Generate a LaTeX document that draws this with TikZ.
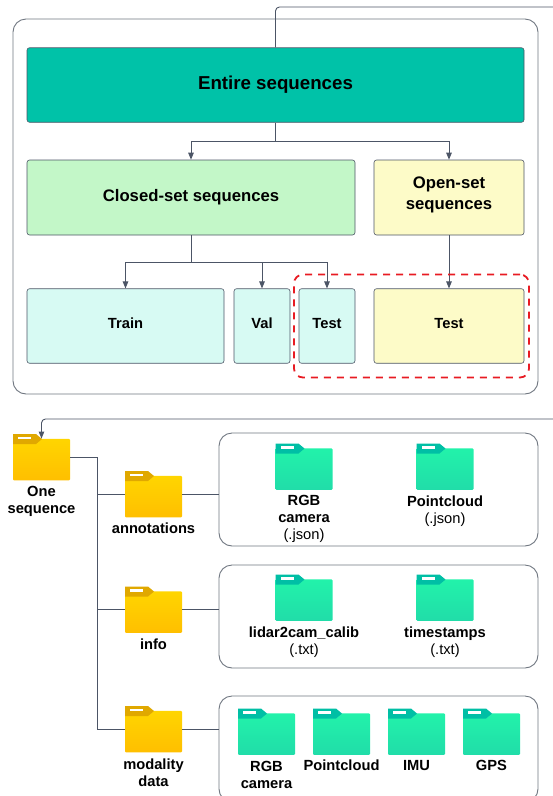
\documentclass[tikz,border=0pt]{standalone}
\usepackage{fontspec}
\setmainfont{Liberation Sans}
\usetikzlibrary{arrows.meta}
\definecolor{linegray}{HTML}{4C5566}
\definecolor{framegray}{HTML}{6F7680}
\definecolor{entirefill}{HTML}{00C2A8}
\definecolor{closedfill}{HTML}{C3F7C8}
\definecolor{openfill}{HTML}{FDFBC8}
\definecolor{splitfill}{HTML}{D7FAF3}
\definecolor{dashred}{HTML}{E81B23}
\definecolor{tabcolor}{HTML}{E0A800}
\definecolor{bodytop}{HTML}{FFD500}
\definecolor{bodybot}{HTML}{FFBF00}
\tikzset{
    stagebox/.style={draw=linegray,line width=0.6pt,rounded corners=2.5pt,inner sep=0pt,align=center,font=\fontsize{16.7}{21}\selectfont\bfseries},
    splitbox/.style={stagebox,minimum height=74.5pt,text depth=6pt,font=\fontsize{14.7}{17}\selectfont\bfseries},
    frame/.style={draw=framegray,line width=0.9pt,rounded corners=13pt,inner sep=0pt},
    conn/.style={draw=linegray,line width=0.9pt,-{Triangle[width=5.5pt,length=7pt]}},
    wire/.style={draw=linegray,line width=0.9pt},
    flabel/.style={align=center,inner sep=0pt,font=\fontsize{14.7}{17}\selectfont\bfseries},
    folder/.pic={
        \node[inner sep=0pt,minimum width=57pt,minimum height=41.5pt,rounded corners=1pt,top color=bodytop,bottom color=bodybot] (-body) at (0,0) {};
        \fill[tabcolor] (-28.5,-25.5) -- (-5.5,-25.5) -- (0.5,-20.5) -- (-5.5,-15.5) -- (-28.5,-15.5) -- cycle;
        \fill[white] (-23.5,-23) rectangle (-10.5,-20.5);
        \coordinate (-left) at (-28.5,-2.5);
        \coordinate (-right) at (28.5,-2.5);
    },
}
\begin{document}
\begin{tikzpicture}[x=1pt,y=-1pt]
    \useasboundingbox (0,0) rectangle (553,796);
    \clip (0,0) rectangle (553,796);
    % upper part
    \node[frame,minimum width=525pt,minimum height=375pt] (outer) at (275.5,206.5) {};
    \node[stagebox,fill=entirefill,minimum width=497pt,minimum height=74.5pt,text depth=5pt,font=\fontsize{18.7}{21}\selectfont\bfseries] (entire) at (275.5,85) {Entire sequences};
    \node[stagebox,fill=closedfill,minimum width=328pt,minimum height=75pt] (closed) at (191,197.5) {Closed-set sequences};
    \node[stagebox,fill=openfill,minimum width=150pt,minimum height=75pt,text depth=8pt] (open) at (449,197.5) {Open-set\\sequences};
    \node[splitbox,fill=splitfill,minimum width=197pt] (train) at (125.5,326) {Train};
    \node[splitbox,fill=splitfill,minimum width=56pt] (val) at (262,326) {Val};
    \node[splitbox,fill=splitfill,minimum width=56pt] (test) at (327,326) {Test};
    \node[splitbox,fill=openfill,minimum width=150pt] (opentest) at (449,326) {Test};
    \coordinate (topend) at (553,7);
    \coordinate (split) at (275.5,141);
    \coordinate (closedsplit) at (191,262);
    \draw[wire,rounded corners=4pt] (entire.north) |- (topend);
    \draw[wire] (entire.south) -- (split);
    \draw[conn] (split) -| (closed.north);
    \draw[conn] (split) -| (open.north);
    \draw[wire] (closed.south) -- (closedsplit);
    \draw[conn] (closedsplit) -| (train.north);
    \draw[conn] (closedsplit) -| (val.north);
    \draw[conn] (closedsplit) -| (test.north);
    \draw[conn] (open.south) -- (opentest.north);
    \node[draw=dashred,line width=1.8pt,dash pattern=on 7pt off 6pt,rounded corners=9pt,inner sep=0pt,minimum width=235pt,minimum height=103pt] (zone) at (411.5,326) {};
    % lower part
    \node[frame,minimum width=319pt,minimum height=113pt] (annotpanel) at (378.5,489.5) {};
    \node[frame,minimum width=319pt,minimum height=103pt] (infopanel) at (378.5,616.5) {};
    \node[frame,minimum width=319pt,minimum height=106pt] (modalpanel) at (378.5,749) {};
    \pic (one) at (41.5,459.5) {folder};
    \pic (annot) at (153.5,496.5) {folder};
    \pic (info) at (153.5,612) {folder};
    \pic (modal) at (153.5,731.5) {folder};
    \definecolor{tabcolor}{HTML}{00BFA5}
    \definecolor{bodytop}{HTML}{22F2AA}
    \definecolor{bodybot}{HTML}{21DDA9}
    \pic (argb) at (304,469) {folder};
    \pic (apc) at (445,469) {folder};
    \pic (calib) at (304,600) {folder};
    \pic (stamp) at (445,600) {folder};
    \pic (mrgb) at (266.5,734) {folder};
    \pic (mpc) at (341.5,734) {folder};
    \pic (mimu) at (416.5,734) {folder};
    \pic (mgps) at (491.5,734) {folder};
    \coordinate (backstart) at (553,419);
    \coordinate (trunk) at (97,457);
    \draw[conn,rounded corners=4pt] (backstart) -| (one-body.north);
    \draw[wire] (one-right) -- (trunk) -- (trunk |- modal-left) -- (modal-left);
    \draw[wire] (trunk |- annot-left) -- (annot-left);
    \draw[wire] (trunk |- info-left) -- (info-left);
    \draw[wire] (annot-right) -- (annot-right -| annotpanel.west);
    \draw[wire] (info-right) -- (info-right -| infopanel.west);
    \draw[wire] (modal-right) -- (modal-right -| modalpanel.west);
    \node[flabel] (onetext) at (41.5,501.5) {One\\sequence};
    \node[flabel] (annottext) at (153.5,528) {annotations};
    \node[flabel] (infotext) at (153.5,644) {info};
    \node[flabel] (modaltext) at (153.5,772.5) {modality\\data};
    \node[flabel] (argbtext) at (304,519) {RGB\\camera\\{\normalfont (.json)}};
    \node[flabel] (apctext) at (445,511.5) {Pointcloud\\{\normalfont (.json)}};
    \node[flabel] (calibtext) at (304,642.5) {lidar2cam\_calib\\{\normalfont (.txt)}};
    \node[flabel] (stamptext) at (445,642.5) {timestamps\\{\normalfont (.txt)}};
    \node[flabel] (mrgbtext) at (266.5,774.5) {RGB\\camera};
    \node[flabel,text depth=0pt] (mpctext) at (341.5,765) {Pointcloud};
    \node[flabel,text depth=0pt] (mimutext) at (416.5,765) {IMU};
    \node[flabel,text depth=0pt] (mgpstext) at (491.5,765) {GPS};
\end{tikzpicture}
\end{document}
